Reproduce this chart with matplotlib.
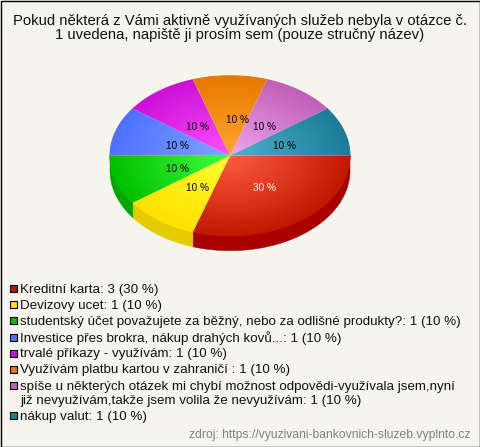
import numpy as np
import matplotlib
matplotlib.use("Agg")
import matplotlib.pyplot as plt
from matplotlib.patches import Polygon, Rectangle

plt.rcParams["font.family"] = ["Liberation Sans", "DejaVu Sans"]

title_lines = [
    "Pokud některá z Vámi aktivně využívaných služeb nebyla v otázce č.",
    "1 uvedena, napiště ji prosím sem (pouze stručný název)",
]
source = "zdroj: https://vyuzivani-bankovnich-sluzeb.vyplnto.cz"

counts = [3, 1, 1, 1, 1, 1, 1, 1]
legend_labels = [
    ["Kreditní karta: 3 (30 %)"],
    ["Devizovy ucet: 1 (10 %)"],
    ["studentský účet považujete za běžný, nebo za odlišné produkty?: 1 (10 %)"],
    ["Investice přes brokra, nákup drahých kovů...: 1 (10 %)"],
    ["trvalé příkazy - využívám: 1 (10 %)"],
    ["Využívám platbu kartou v zahraničí : 1 (10 %)"],
    ["spíše u některých otázek mi chybí možnost odpovědi-využívala jsem,nyní",
     "již nevyužívám,takže jsem volila že nevyužívám: 1 (10 %)"],
    ["nákup valut: 1 (10 %)"],
]
rim_colors = ["#C01800", "#FFE000", "#00C000", "#4D70FF", "#CC10D8", "#E87800", "#C060B8", "#1C7C98"]
inner_colors = ["#FF5C40", "#FFFF30", "#40FF40", "#80A6FF", "#FF50FF", "#FFA830", "#F0A4F0", "#52B2CA"]
side_colors = ["#A80000", "#E5CC00", "#00A800", "#3050C0", "#A000A8", "#B85C00", "#985090", "#105C74"]

BG = "#F5F5EE"
CX, CY, RX, RY, DEPTH = 230, 155.7, 120, 80, 15

fig = plt.figure(figsize=(4.8, 4.47), dpi=100, facecolor=BG)
ax = fig.add_axes([0, 0, 1, 1])
ax.set_axis_off()

# radial shading, same for all slices
gx, gy = np.meshgrid(np.linspace(CX - RX, CX + RX, 480), np.linspace(CY - RY, CY + RY, 320))
dist = np.clip(np.hypot((gx - CX) / RX, (gy - CY) / RY), 0, 1)[..., None]

total = sum(counts)
edges = np.cumsum([0] + counts) / total * 2 * np.pi


def arc(a, b, dy=0):
    t = np.linspace(a, b, 80)
    return np.column_stack([CX + RX * np.cos(t), CY + dy + RY * np.sin(t)])


# side walls, only the front half is visible
for i in range(len(counts)):
    a, b = edges[i], min(edges[i + 1], np.pi)
    if a >= np.pi:
        continue
    pts = np.vstack([arc(a, b), arc(a, b, DEPTH)[::-1]])
    ax.add_patch(Polygon(pts, closed=True, fc=side_colors[i], ec=side_colors[i], lw=0.3))

for i in range(len(counts)):
    c0 = np.array(matplotlib.colors.to_rgb(inner_colors[i]))
    c1 = np.array(matplotlib.colors.to_rgb(rim_colors[i]))
    shade = c0 + (c1 - c0) * dist
    im = ax.imshow(shade, extent=[CX - RX, CX + RX, CY + RY, CY - RY], interpolation="bilinear", zorder=2)
    wedge = Polygon(np.vstack([[CX, CY], arc(edges[i], edges[i + 1])]), closed=True, transform=ax.transData)
    im.set_clip_path(wedge)
    # image clipping is jagged, soften the rim with a thin line
    rim = arc(edges[i], edges[i + 1])
    ax.plot(rim[:, 0], rim[:, 1], color=rim_colors[i], lw=0.7, zorder=2.5)

    mid = (edges[i] + edges[i + 1]) / 2
    lx = CX + 1 + 0.47 * RX * np.cos(mid)
    ly = CY + 1.5 + 0.47 * RY * np.sin(mid)
    if abs(np.cos(mid)) < 0.01:
        lx += 7  # label of the slice at the very top sits off centre
    ax.text(lx, ly, f"{counts[i] * 100 // total} %", ha="center", va="center", fontsize=7.2,
            color="white" if i == 0 else "black", zorder=3)

for k, line in enumerate(title_lines):
    ax.text(240, 20.5 + 15 * k, line, ha="center", va="center", fontsize=10.75, color="#111111")

# legend rows
row_y = 289
for i, lines in enumerate(legend_labels):
    ax.add_patch(Rectangle((9.5, row_y - 4), 7, 7, fc=rim_colors[i], ec="black", lw=0.8, zorder=2))
    for k, line in enumerate(lines):
        ax.text(20, row_y + 0.5 + 14 * k, line, ha="left", va="center", fontsize=9.64, color="#111111")
    row_y += 16.2 + (len(lines) - 1) * 14

ax.text(470, 435, source, ha="right", va="center", fontsize=8.73, color="#808080")

ax.add_patch(Rectangle((0.5, 0.5), 479, 446, fc="none", ec="black", lw=1, zorder=5))
ax.set_xlim(0, 480)
ax.set_ylim(447, 0)

fig.savefig("out.png", dpi=100, facecolor=BG)
